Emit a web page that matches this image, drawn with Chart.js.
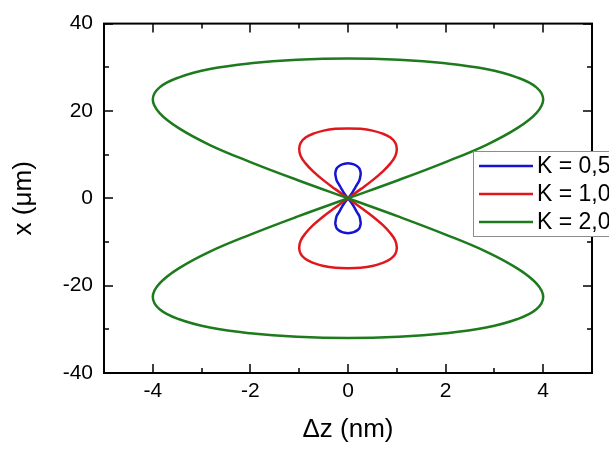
<!DOCTYPE html>
<html>
<head>
<meta charset="utf-8">
<script src="https://cdn.jsdelivr.net/npm/chart.js@4/dist/chart.umd.min.js"></script>
<style>
  body { margin: 0; background: #fff; }
  #chart { display: block; }
</style>
</head>
<body>
<canvas id="chart" width="609" height="452"></canvas>
<script>
// values (dz in nm, x in um), each loop traced once round:
// upper lobe right side, upper lobe left side, lower lobe right side, lower lobe left side
const blueDz = [0, 0.07, 0.13, 0.18, 0.23, 0.25, 0.26, 0.25, 0.23, 0.18, 0.13, 0.07, 0,
  -0.07, -0.13, -0.18, -0.23, -0.25, -0.26, -0.25, -0.23, -0.18, -0.13, -0.07, 0,
  0.07, 0.13, 0.18, 0.23, 0.25, 0.26, 0.25, 0.23, 0.18, 0.13, 0.07, 0,
  -0.07, -0.13, -0.18, -0.23, -0.25, -0.26, -0.25, -0.23, -0.18, -0.13, -0.07, 0];
const blueX = [0, 1.0, 2.1, 3.1, 4.0, 4.9, 5.7, 6.3, 6.9, 7.4, 7.7, 7.9, 8.0,
  7.9, 7.7, 7.4, 6.9, 6.3, 5.7, 4.9, 4.0, 3.1, 2.1, 1.0, 0,
  -1.0, -2.1, -3.1, -4.0, -4.9, -5.7, -6.3, -6.9, -7.4, -7.7, -7.9, -8.0,
  -7.9, -7.7, -7.4, -6.9, -6.3, -5.7, -4.9, -4.0, -3.1, -2.1, -1.0, 0];

const redDz = [0, 0.26, 0.5, 0.71, 0.87, 0.97, 1.0, 0.97, 0.87, 0.71, 0.5, 0.26, 0,
  -0.26, -0.5, -0.71, -0.87, -0.97, -1.0, -0.97, -0.87, -0.71, -0.5, -0.26, 0,
  0.26, 0.5, 0.71, 0.87, 0.97, 1.0, 0.97, 0.87, 0.71, 0.5, 0.26, 0,
  -0.26, -0.5, -0.71, -0.87, -0.97, -1.0, -0.97, -0.87, -0.71, -0.5, -0.26, 0];
const redX = [0, 2.1, 4.1, 6.1, 8.0, 9.7, 11.3, 12.7, 13.9, 14.8, 15.5, 15.9, 16.0,
  15.9, 15.5, 14.8, 13.9, 12.7, 11.3, 9.7, 8.0, 6.1, 4.1, 2.1, 0,
  -2.1, -4.1, -6.1, -8.0, -9.7, -11.3, -12.7, -13.9, -14.8, -15.5, -15.9, -16.0,
  -15.9, -15.5, -14.8, -13.9, -12.7, -11.3, -9.7, -8.0, -6.1, -4.1, -2.1, 0];

const greenDz = [0, 1.04, 2.0, 2.83, 3.46, 3.86, 4.0, 3.86, 3.46, 2.83, 2.0, 1.04, 0,
  -1.04, -2.0, -2.83, -3.46, -3.86, -4.0, -3.86, -3.46, -2.83, -2.0, -1.04, 0,
  1.04, 2.0, 2.83, 3.46, 3.86, 4.0, 3.86, 3.46, 2.83, 2.0, 1.04, 0,
  -1.04, -2.0, -2.83, -3.46, -3.86, -4.0, -3.86, -3.46, -2.83, -2.0, -1.04, 0];
const greenX = [0, 4.2, 8.3, 12.2, 16.0, 19.5, 22.6, 25.4, 27.7, 29.6, 30.9, 31.7, 32.0,
  31.7, 30.9, 29.6, 27.7, 25.4, 22.6, 19.5, 16.0, 12.2, 8.3, 4.2, 0,
  -4.2, -8.3, -12.2, -16.0, -19.5, -22.6, -25.4, -27.7, -29.6, -30.9, -31.7, -32.0,
  -31.7, -30.9, -29.6, -27.7, -25.4, -22.6, -19.5, -16.0, -12.2, -8.3, -4.2, 0];

const seriesLabels = ['K = 0,5', 'K = 1,0', 'K = 2,0'];
const xTickLabels = [-4, -2, 0, 2, 4];
const yTickLabels = [-40, -20, 0, 20, 40];

const FONT = "'Liberation Sans', Arial, sans-serif";

function pts(dz, x) {
  return dz.map((v, i) => ({ x: v, y: x[i] }));
}

function lineSet(label, data, color, order) {
  return {
    label: label,
    data: data,
    showLine: true,
    borderColor: color,
    backgroundColor: color,
    borderWidth: 2.5,
    pointRadius: 0,
    tension: 0.4,
    fill: false,
    order: order
  };
}

// box round the plot with inward ticks on all four sides, plus the legend box
const framePlugin = {
  id: 'frame',
  afterDraw(chart) {
    const ctx = chart.ctx;
    const a = chart.chartArea;
    const xs = chart.scales.x, ys = chart.scales.y;
    ctx.save();
    ctx.strokeStyle = '#000';
    ctx.lineWidth = 2;
    ctx.strokeRect(a.left, a.top, a.right - a.left, a.bottom - a.top);

    ctx.lineWidth = 1.5;
    const xMarks = [];
    for (let i = 0; i < xTickLabels.length; i++) {
      xMarks.push([xTickLabels[i], 9]);
      if (i < xTickLabels.length - 1) xMarks.push([(xTickLabels[i] + xTickLabels[i + 1]) / 2, 5]);
    }
    xMarks.push([xs.min, 5], [xs.max, 5]);
    xMarks.forEach(([v, len]) => {
      const px = Math.round(xs.getPixelForValue(v));
      ctx.beginPath();
      ctx.moveTo(px, a.bottom); ctx.lineTo(px, a.bottom - len);
      ctx.moveTo(px, a.top); ctx.lineTo(px, a.top + len);
      ctx.stroke();
    });
    const yMarks = [];
    for (let i = 0; i < yTickLabels.length; i++) {
      yMarks.push([yTickLabels[i], 9]);
      if (i < yTickLabels.length - 1) yMarks.push([(yTickLabels[i] + yTickLabels[i + 1]) / 2, 5]);
    }
    yMarks.forEach(([v, len]) => {
      const py = Math.round(ys.getPixelForValue(v));
      ctx.beginPath();
      ctx.moveTo(a.left, py); ctx.lineTo(a.left + len, py);
      ctx.moveTo(a.right, py); ctx.lineTo(a.right - len, py);
      ctx.stroke();
    });

    // legend, running off the right edge like the original
    const lx = 473, ly = 151, rowH = 28;
    ctx.fillStyle = '#fff';
    ctx.fillRect(lx, ly, 160, 85);
    ctx.strokeStyle = '#8c8c8c';
    ctx.lineWidth = 1;
    ctx.strokeRect(lx + 0.5, ly + 0.5, 160, 85);
    ctx.font = '23px ' + FONT;
    ctx.textBaseline = 'middle';
    ctx.textAlign = 'left';
    chart.data.datasets.forEach((ds, i) => {
      const y = ly + 15 + i * rowH;
      ctx.strokeStyle = ds.borderColor;
      ctx.lineWidth = 2.5;
      ctx.beginPath();
      ctx.moveTo(479, y); ctx.lineTo(533, y);
      ctx.stroke();
      ctx.fillStyle = '#000';
      ctx.fillText(ds.label, 537, y + 1);
    });
    ctx.restore();
  }
};

new Chart(document.getElementById('chart'), {
  type: 'scatter',
  data: {
    datasets: [
      lineSet(seriesLabels[0], pts(blueDz, blueX), '#1414d2', 2),
      lineSet(seriesLabels[1], pts(redDz, redX), '#e0181e', 1),
      lineSet(seriesLabels[2], pts(greenDz, greenX), '#1d7a1d', 0)
    ]
  },
  options: {
    responsive: false,
    animation: false,
    devicePixelRatio: 1,
    layout: { padding: { top: 14, right: 17, left: 0, bottom: 0 } },
    plugins: {
      legend: { display: false },
      tooltip: { enabled: false }
    },
    scales: {
      x: {
        type: 'linear',
        min: -5,
        max: 5,
        afterBuildTicks: s => { s.ticks = xTickLabels.map(v => ({ value: v })); },
        afterFit: s => { s.height = 79; },
        grid: { display: false, drawTicks: false },
        border: { display: false },
        ticks: { color: '#000', padding: 6, font: { family: FONT, size: 21 } },
        title: {
          display: true,
          text: 'Δz (nm)',
          color: '#000',
          font: { family: FONT, size: 26 },
          padding: { top: 0, bottom: 7 }
        }
      },
      y: {
        type: 'linear',
        min: -40,
        max: 40,
        afterBuildTicks: s => { s.ticks = yTickLabels.map(v => ({ value: v })); },
        afterFit: s => { s.width = 104; },
        grid: { display: false, drawTicks: false },
        border: { display: false },
        ticks: { color: '#000', padding: 11, font: { family: FONT, size: 21 } },
        title: {
          display: true,
          text: 'x (μm)',
          color: '#000',
          font: { family: FONT, size: 26 },
          padding: { top: 8, bottom: 0 }
        }
      }
    }
  },
  plugins: [framePlugin]
});
</script>
</body>
</html>
